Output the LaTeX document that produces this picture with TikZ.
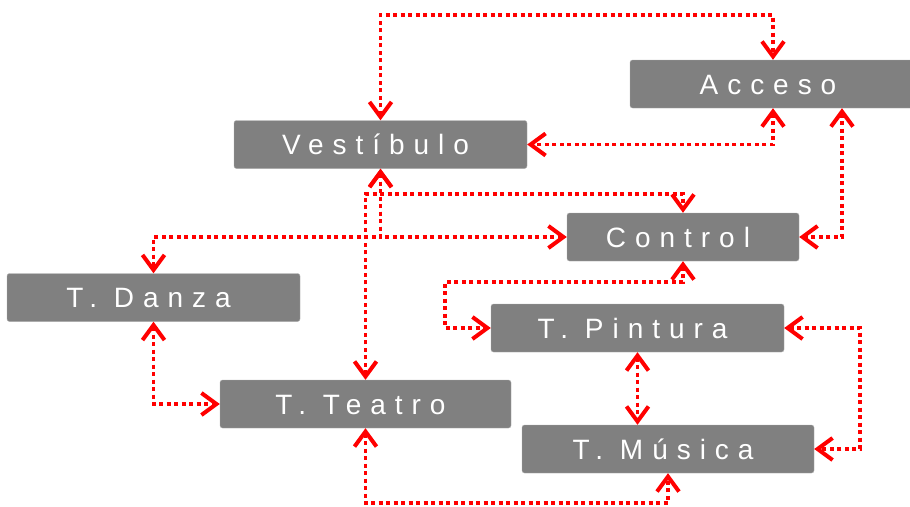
\documentclass[tikz,border=0pt]{standalone}
\usepackage{fontspec}
\setmainfont{Liberation Sans}
\usetikzlibrary{arrows.meta}
\tikzset{>={Straight Barb[length=15pt, width=22pt, line width=4pt]}}
\tikzset{
	sala/.style={fill=gray, draw=gray!65, rounded corners=2.5pt, text=white, inner sep=0pt,
		minimum height=48pt, text height=20pt, text depth=0pt,
		font=\fontsize{28}{28}\selectfont\addfontfeature{LetterSpace=32},
		execute at end node={\hspace*{10pt}}},
	enlace/.style={red, line width=3.6pt, dash pattern=on 4pt off 3.5pt, <->}
}

\begin{document}
\begin{tikzpicture}[x=1pt, y=-1pt]
    \useasboundingbox(0, 0)rectangle(910, 506);
    \node[sala, minimum width=286pt](acc) at(773, 84){Acceso};
    \node[sala, minimum width=293pt](vest) at(380.5, 144.5){Vestíbulo};
    \node[sala, minimum width=232pt](ctrl) at(683, 237){Control};
    \node[sala, minimum width=293pt](danza) at(153.5, 297.5){T. Danza};
    \node[sala, minimum width=293pt](pint) at(637.5, 328){T. Pintura};
    \node[sala, minimum width=291pt](teatro) at(365.5, 404){T. Teatro};
    \node[sala, minimum width=292pt](musica) at(668, 449){T. Música};
    \coordinate(arriba) at(0, 15);
    \coordinate(medio) at(0, 194);
    \coordinate(codo) at(445, 282);
    \coordinate(lado) at(860, 0);
    \coordinate(abajo) at(0, 503);
    \draw[enlace](vest.north)--(vest.north |- arriba)-|(acc.north);
    \draw[enlace](acc.south)|-(vest.east);
    \draw[enlace]([xshift=69pt]acc.south)|-(ctrl.east);
    \draw[enlace](vest.south)|-(ctrl.west);
    \draw[enlace](vest.south)--(vest.south |- ctrl.west)-|(danza.north);
    \draw[enlace](teatro.north)--(teatro.north |- medio)-|(ctrl.north);
    \draw[enlace](ctrl.south)|-(codo)|-(pint.west);
    \draw[enlace](pint.south)--(pint.south |- musica.north);
    \draw[enlace](pint.east)--(pint.east -| lado)|-(musica.east);
    \draw[enlace](danza.south)|-(teatro.west);
    \draw[enlace](teatro.south)--(teatro.south |- abajo)-|(musica.south);
\end{tikzpicture}
\end{document}
